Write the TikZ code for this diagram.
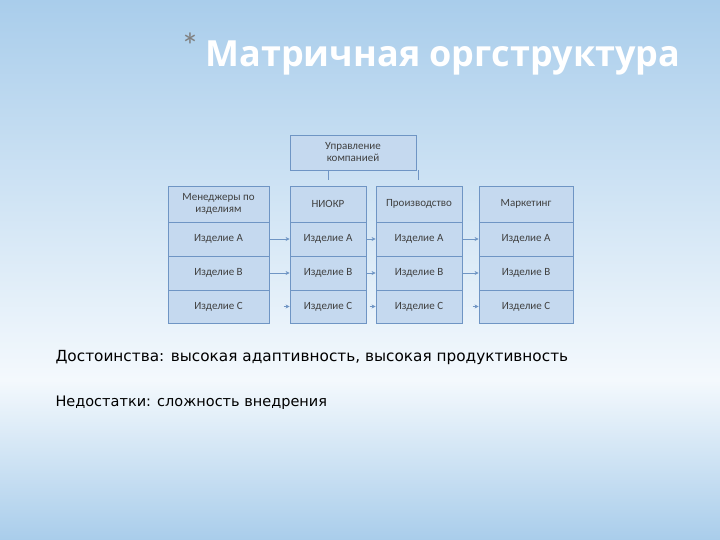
\documentclass[tikz,border=0pt]{standalone}
\usepackage{fontspec}
\setmainfont{Carlito}
\newfontfamily\titlefont{Open Sans}
\newfontfamily\bodyfont{DejaVu Sans}
\usetikzlibrary{arrows.meta}
\definecolor{bgA}{HTML}{A9CDEB}
\definecolor{bgB}{HTML}{F4F9FD}
\definecolor{boxf}{HTML}{C5D9EF}
\definecolor{boxd}{HTML}{6F95C4}
\definecolor{txt}{HTML}{404040}
\tikzset{x=1pt,y=-1pt,
 cell/.style={draw=boxd,fill=boxf,line width=0.8pt,inner sep=0pt,text=txt,font=\fontsize{11}{12}\selectfont,align=center},
 arr/.style={draw=boxd,line width=0.6pt,-{Stealth[length=4pt,width=4pt]}}}
\begin{document}
\begin{tikzpicture}
\useasboundingbox (0,0) rectangle (720,540);
\shade[top color=bgA,bottom color=bgB] (0,0) rectangle (720,380);
\shade[top color=bgB,bottom color=bgA] (0,380) rectangle (720,540);
\node[text=gray,font=\fontsize{36}{36}\selectfont] (star) at (190,46) {*};
\node[anchor=west,text=white,font=\titlefont\bfseries\fontsize{36}{36}\selectfont] (title) at (202,58) {Матричная оргструктура};
\node[cell,minimum width=126,minimum height=35] (top) at (353,152.5) {Управление\\компанией};
\coordinate (t1) at (328,170); \coordinate (t1b) at (328,180);
\coordinate (t2) at (418,170); \coordinate (t2b) at (418,180);
\draw[boxd,line width=0.6pt] (t1)--(t1b) (t2)--(t2b);
\foreach \c/\xa/\xb/\h in {a/168/269/{Менеджеры по\\изделиям},b/290/366/{НИОКР},c/376/462/{Производство},d/479/573/{Маркетинг}}{
 \pgfmathsetmacro\w{\xb-\xa}\pgfmathsetmacro\m{(\xa+\xb)/2}
 \node[cell,minimum width=\w,minimum height=36] (\c0) at (\m,204) {\h};
 \node[cell,minimum width=\w,minimum height=34] (\c1) at (\m,239) {Изделие А};
 \node[cell,minimum width=\w,minimum height=34] (\c2) at (\m,273) {Изделие В};
 \node[cell,minimum width=\w,minimum height=33] (\c3) at (\m,306.5) {Изделие С};
}
\foreach \p/\q in {a/b,b/c,c/d}{
 \draw[arr] (\p1.east) -- (\q1.west);
 \draw[arr] (\p2.east) -- (\q2.west);
 \draw[arr] ([xshift=-6pt]\q3.west) -- (\q3.west);
}
\node[anchor=west,text=black,font=\bodyfont\fontsize{15.3}{16}\selectfont] (adv) at (52,358) {Достоинства: высокая адаптивность, высокая продуктивность};
\node[anchor=west,text=black,font=\bodyfont\fontsize{14.5}{15}\selectfont] (dis) at (52,403) {Недостатки: сложность внедрения};
\end{tikzpicture}
\end{document}
